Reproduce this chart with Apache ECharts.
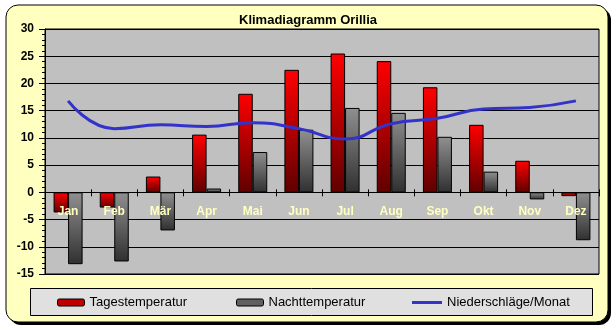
<!DOCTYPE html>
<html>
<head>
<meta charset="utf-8">
<script src="https://cdn.jsdelivr.net/npm/echarts@6/dist/echarts.min.js"></script>
<style>
html,body{margin:0;padding:0;background:#fff;}
#c{width:616px;height:330px;}
</style>
</head>
<body>
<div id="c"></div>
<script>
const titleText = 'Klimadiagramm Orillia';
const months = ['Jan','Feb','Mär','Apr','Mai','Jun','Jul','Aug','Sep','Okt','Nov','Dez'];
const tagestemperatur = [-3.7, -2.8, 2.9, 10.6, 18.1, 22.5, 25.5, 24.1, 19.3, 12.4, 5.8, -0.7];
const nachttemperatur = [-13.2, -12.7, -7.0, 0.7, 7.4, 11.5, 15.5, 14.6, 10.2, 3.8, -1.3, -8.8];
const niederschlag = [16.8, 11.7, 12.4, 12.1, 12.8, 11.7, 9.8, 12.6, 13.6, 15.3, 15.6, 16.8];
const seriesNames = ['Tagestemperatur', 'Nachttemperatur', 'Niederschläge/Monat'];
const yMin = -15, yMax = 30, yStep = 5;

const W = 616, H = 330;
const gridTop = 29, gridBottom = 56;
const plotH = H - gridTop - gridBottom;
// place the category axis at y = 0 of the value axis
const zeroFromBottom = plotH * (0 - yMin) / (yMax - yMin);
const zeroFromTop = plotH * (yMax - 0) / (yMax - yMin);

const chart = echarts.init(document.getElementById('c'), null, {renderer: 'canvas'});
const redGrad = new echarts.graphic.LinearGradient(0, 0, 0, 1, [
  {offset: 0, color: '#ff0000'}, {offset: 1, color: '#600000'}]);
const grayGrad = new echarts.graphic.LinearGradient(0, 0, 0, 1, [
  {offset: 0, color: '#909090'}, {offset: 1, color: '#303030'}]);

const legendBase = {
  top: 296, itemWidth: 27, itemHeight: 7,
  textStyle: {fontFamily: 'Liberation Sans, Arial', fontSize: 13, color: '#000'},
  padding: 0, itemGap: 0, selectedMode: false
};

chart.setOption({
  animation: false,
  backgroundColor: 'transparent',
  title: {
    text: titleText, left: 'center', top: 9,
    textStyle: {fontFamily: 'Liberation Sans, Arial', fontSize: 13, fontWeight: 'bold', color: '#000'}
  },
  graphic: [
    {type: 'rect', z: -10, shape: {x: 9, y: 8, width: 602, height: 317, r: 12}, style: {fill: '#000'}, silent: true},
    {type: 'rect', z: -9, shape: {x: 6, y: 5, width: 602, height: 317, r: 12}, style: {fill: '#ffffc0', stroke: '#000', lineWidth: 1}, silent: true},
    {type: 'rect', z: -8, shape: {x: 30.5, y: 288.5, width: 562, height: 27}, style: {fill: '#e0e0e0', stroke: '#000', lineWidth: 1}, silent: true}
  ],
  legend: [
    Object.assign({}, legendBase, {left: 57, data: [{name: seriesNames[0], itemStyle: {color: '#c00000', borderColor: '#000', borderWidth: 1}}]}),
    Object.assign({}, legendBase, {left: 236, data: [{name: seriesNames[1], itemStyle: {color: '#606060', borderColor: '#000', borderWidth: 1}}]}),
    Object.assign({}, legendBase, {left: 412, itemWidth: 30, data: [{name: seriesNames[2], icon: 'path://M0,0 L30,0 L30,3 L0,3 Z', itemStyle: {color: '#3333cc'}}]})
  ],
  grid: {
    left: 45, right: 17, top: gridTop, bottom: gridBottom,
    show: true, backgroundColor: '#c0c0c0', borderColor: '#000', borderWidth: 1
  },
  xAxis: [
    {
      type: 'category', data: months, z: 10, position: 'bottom', offset: -zeroFromBottom,
      axisLine: {onZero: false, lineStyle: {color: '#000', width: 1}},
      axisTick: {show: true, length: 4, alignWithLabel: false, lineStyle: {color: '#000'}},
      axisLabel: {margin: 13, color: '#ffffc0', fontFamily: 'Liberation Sans, Arial', fontSize: 12, fontWeight: 'bold'},
      splitLine: {show: false}
    },
    {
      type: 'category', data: months, position: 'top', z: 10, offset: -zeroFromTop,
      axisLine: {onZero: false, show: false},
      axisTick: {show: true, length: 3, alignWithLabel: false, lineStyle: {color: '#000'}},
      axisLabel: {show: false},
      splitLine: {show: false}
    }
  ],
  yAxis: {
    type: 'value', min: yMin, max: yMax, interval: yStep,
    axisLine: {show: true, onZero: false, lineStyle: {color: '#000'}},
    axisTick: {show: true, length: 6, lineStyle: {color: '#000'}},
    minorTick: {show: true, splitNumber: 5, length: 3, lineStyle: {color: '#000'}},
    axisLabel: {margin: 11, color: '#000', fontFamily: 'Liberation Sans, Arial', fontSize: 12, fontWeight: 'bold'},
    splitLine: {show: true, lineStyle: {color: '#000', width: 1}}
  },
  series: [
    {
      name: seriesNames[0], type: 'bar', data: tagestemperatur, barWidth: 14.5, barGap: '0%',
      itemStyle: {color: redGrad, borderColor: '#000', borderWidth: 1}
    },
    {
      name: seriesNames[1], type: 'bar', data: nachttemperatur, barWidth: 14.5, barGap: '0%',
      itemStyle: {color: grayGrad, borderColor: '#000', borderWidth: 1}
    },
    {
      name: seriesNames[2], type: 'line', data: niederschlag, smooth: 0.5, symbol: 'none', z: 5,
      lineStyle: {color: '#3333cc', width: 3}, itemStyle: {color: '#3333cc'}
    }
  ]
});
</script>
</body>
</html>
